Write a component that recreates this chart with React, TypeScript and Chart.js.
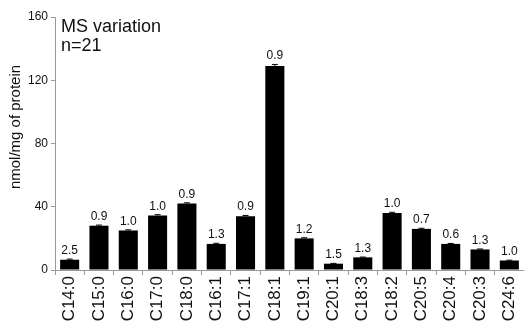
import React, { useEffect, useRef } from "react";
import { Chart, registerables } from "chart.js";

Chart.register(...registerables);

// Fatty acid species on the x axis
const categories = [
  "C14:0", "C15:0", "C16:0", "C17:0", "C18:0", "C16:1", "C17:1", "C18:1",
  "C19:1", "C20:1", "C18:3", "C18:2", "C20:5", "C20:4", "C20:3", "C24:6",
];

// Mean amount (nmol/mg of protein)
const amounts = [6.5, 28, 25, 34.5, 42, 16.5, 34, 129, 20, 4, 8, 36, 26, 16.5, 13, 6];

// Error (upper whisker)
const errors = [0.4, 0.4, 0.4, 0.5, 0.5, 0.4, 0.5, 1.0, 0.4, 0.2, 0.2, 0.5, 0.4, 0.3, 0.3, 0.2];

// MS variation shown above each bar
const variation = ["2.5", "0.9", "1.0", "1.0", "0.9", "1.3", "0.9", "0.9", "1.2", "1.5", "1.3", "1.0", "0.7", "0.6", "1.3", "1.0"];

const yTicks = [0, 40, 80, 120, 160];

const FONT = "'Liberation Sans', Arial, sans-serif";
const AXIS_COLOR = "#9a9a9a";
const TEXT_COLOR = "#111111";

const overlayPlugin = {
  id: "overlay",
  afterDatasetsDraw(chart: any) {
    const ctx = chart.ctx;
    const meta = chart.getDatasetMeta(0);
    const y = chart.scales.y;
    ctx.save();
    // error bars
    ctx.strokeStyle = "#000";
    ctx.lineWidth = 1;
    meta.data.forEach((bar: any, i: number) => {
      const top = y.getPixelForValue(amounts[i] + errors[i]);
      const base = y.getPixelForValue(amounts[i]);
      ctx.beginPath();
      ctx.moveTo(bar.x, base);
      ctx.lineTo(bar.x, top);
      ctx.moveTo(bar.x - 3, top);
      ctx.lineTo(bar.x + 3, top);
      ctx.stroke();
    });
    // variation labels
    ctx.fillStyle = TEXT_COLOR;
    ctx.font = `12px ${FONT}`;
    ctx.textAlign = "center";
    ctx.textBaseline = "alphabetic";
    meta.data.forEach((bar: any, i: number) => {
      const top = y.getPixelForValue(amounts[i] + errors[i]);
      ctx.fillText(variation[i], bar.x, top - 5);
    });
    // annotation in the upper left
    ctx.textAlign = "left";
    ctx.font = `18px ${FONT}`;
    const left = chart.chartArea.left + 6;
    ctx.fillText("MS variation", left, 32);
    ctx.fillText("n=21", left, 51);
    // y axis title
    ctx.font = `15px ${FONT}`;
    ctx.translate(20, 127);
    ctx.rotate(-Math.PI / 2);
    ctx.textAlign = "center";
    ctx.fillText("nmol/mg of protein", 0, 0);
    ctx.restore();
  },
};

export default function App() {
  const ref = useRef<HTMLCanvasElement>(null);

  useEffect(() => {
    document.body.style.margin = "0";
    const canvas = ref.current!;
    const chart = new Chart(canvas, {
      type: "bar",
      data: {
        labels: categories,
        datasets: [
          {
            data: amounts,
            backgroundColor: "#000",
            borderWidth: 0,
            barPercentage: 0.65,
            categoryPercentage: 1,
          },
        ],
      },
      options: {
        responsive: false,
        animation: false,
        devicePixelRatio: 1,
        layout: { padding: { top: 17, right: 0, left: 0, bottom: 0 } },
        plugins: { legend: { display: false }, tooltip: { enabled: false } },
        scales: {
          x: {
            offset: true,
            grid: {
              offset: true,
              drawOnChartArea: false,
              drawTicks: true,
              tickLength: 5,
              color: AXIS_COLOR,
            },
            border: { display: true, color: AXIS_COLOR },
            ticks: {
              color: TEXT_COLOR,
              font: { family: FONT, size: 17 },
              minRotation: 90,
              maxRotation: 90,
              padding: 1,
              autoSkip: false,
            },
            afterFit(scale: any) {
              scale.height = 53;
              scale.paddingLeft = 0;
              scale.paddingRight = 0;
            },
          },
          y: {
            min: 0,
            max: 160,
            afterBuildTicks(scale: any) {
              scale.ticks = yTicks.map((v) => ({ value: v }));
            },
            grid: {
              drawOnChartArea: false,
              drawTicks: true,
              tickLength: 4,
              color: AXIS_COLOR,
            },
            border: { display: true, color: AXIS_COLOR },
            ticks: {
              color: TEXT_COLOR,
              font: { family: FONT, size: 12 },
              padding: 3,
            },
            afterFit(scale: any) {
              scale.width = 55;
            },
          },
        },
      },
      plugins: [overlayPlugin],
    });
    return () => chart.destroy();
  }, []);

  return (
    <div style={{ width: 524, height: 323 }}>
      <canvas ref={ref} width={524} height={323} />
    </div>
  );
}
